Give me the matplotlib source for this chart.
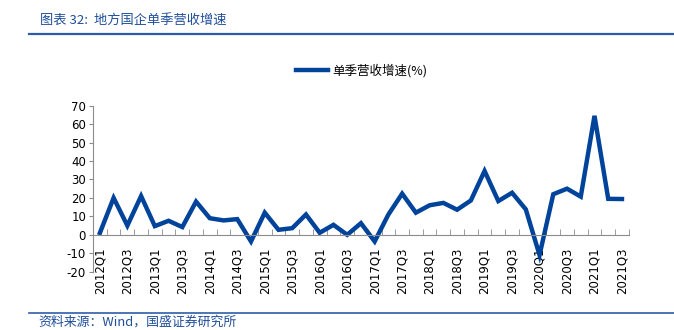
import numpy as np
import matplotlib.pyplot as plt
from matplotlib.lines import Line2D

plt.rcParams['font.family'] = ['Noto Sans CJK SC', 'DejaVu Sans']
plt.rcParams['axes.unicode_minus'] = False

# quarters 2012Q1 .. 2021Q3
quarters = [f"{y}Q{q}" for y in range(2012, 2022) for q in range(1, 5)][:39]
growth = [1, 20, 5, 21, 4.7, 7.6, 4.2, 18, 9, 7.8, 8.5, -3.6,
          12, 2.7, 3.6, 11, 1.1, 5.4, 0, 6.3, -3.6, 11, 22.3, 12,
          16, 17.3, 13.6, 18.6, 34.6, 18.3, 22.8, 13.8, -11, 22, 25,
          20.7, 64.5, 19.5, 19.4]
series_name = "单季营收增速(%)"
title = "图表 32:  地方国企单季营收增速"
source = "资料来源：Wind，国盛证券研究所"

line_color = '#00439A'
blue = '#2E5DA8'
grey = '#8C8C8C'

fig = plt.figure(figsize=(6.74, 3.30), dpi=100)
ax = fig.add_axes([0.138, 0.1767, 0.795, 0.503])

# x axis sits on zero; set this first since it resets the ticks
ax.spines['bottom'].set_position(('data', 0))
ax.spines['bottom'].set_color(grey)
ax.spines['left'].set_color(grey)
ax.spines['top'].set_visible(False)
ax.spines['right'].set_visible(False)

x = np.arange(len(quarters))
ax.plot(x, growth, color=line_color, lw=3.2, solid_joinstyle='miter')

ax.set_xlim(-0.5, len(quarters) - 0.5)
ax.set_ylim(-20, 70)
ax.set_yticks(range(-20, 71, 10))

ax.set_xticks(x[::2])
ax.set_xticklabels(quarters[::2], rotation=90, fontsize=8.5, family='DejaVu Sans')
ax.set_xticks(np.arange(-0.5, len(quarters), 1), minor=True)
ax.tick_params(axis='x', which='major', length=0, pad=9)
ax.tick_params(axis='x', which='minor', length=4, direction='in', color=grey)
ax.tick_params(axis='y', length=3, color=grey, labelsize=8.5, pad=2)
for lab in ax.get_yticklabels():
    lab.set_family('DejaVu Sans')

handle = Line2D([], [], color=line_color, lw=3.2)
fig.legend([handle], [series_name], loc='center', bbox_to_anchor=(0.536, 0.786),
           frameon=False, fontsize=9, handlelength=2.6, handletextpad=0.3)

# header and footer
fig.text(0.059, 0.935, title, fontsize=9.5, color='#1F4E9A', va='center', style='italic')
fig.add_artist(Line2D([0.043, 1.0], [0.897, 0.897], color=blue, lw=1.6))
fig.add_artist(Line2D([0.043, 1.0], [0.052, 0.052], color=blue, lw=1.2))
fig.text(0.057, 0.025, source, fontsize=9.3, color='#1F4E9A', va='center', style='italic')

fig.savefig('out.png', dpi=100)
